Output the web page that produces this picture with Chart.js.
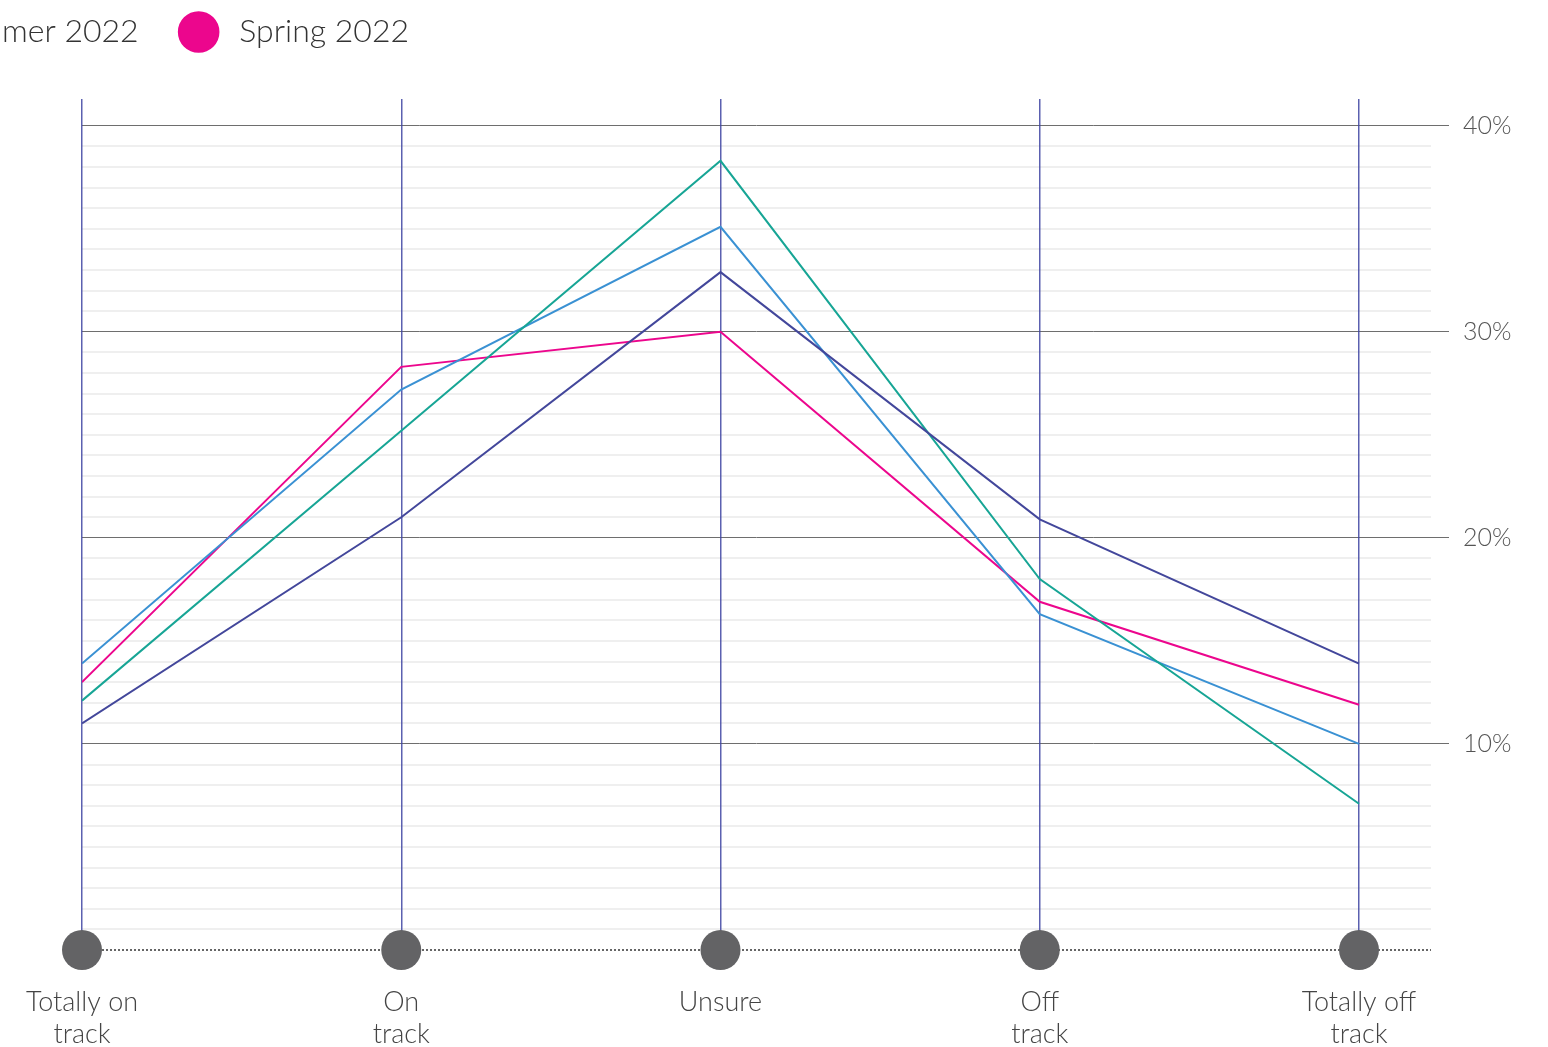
<!DOCTYPE html>
<html>
<head>
<meta charset="utf-8">
<style>
  html, body { margin: 0; padding: 0; background: #fff; overflow: hidden; width: 1548px; height: 1047px; }
  #wrap { position: relative; width: 1548px; height: 1047px; overflow: hidden; }
  #chart { position: absolute; }
</style>
<script src="https://cdn.jsdelivr.net/npm/chart.js@4/dist/chart.umd.min.js"></script>
</head>
<body>
<div id="wrap"><canvas id="chart"></canvas></div>
<script>
// Answer categories along the horizontal axis
const categories = ['Totally on track', 'On track', 'Unsure', 'Off track', 'Totally off track'];

// Share of respondents (%) per survey wave
const seriesNames = ['Winter 2022', 'Autumn 2022', 'Summer 2022', 'Spring 2022'];
const winter2022 = [11.0, 21.0, 32.9, 20.9, 13.9];
const autumn2022 = [12.1, 25.2, 38.3, 18.0, 7.1];
const summer2022 = [13.9, 27.2, 35.1, 16.3, 10.0];
const spring2022 = [13.0, 28.3, 30.0, 16.9, 11.9];
const seriesValues = [winter2022, autumn2022, summer2022, spring2022];
const seriesColors = ['#43479b', '#17a595', '#3a91d3', '#ec068d'];

// Value-axis labels shown on the right
const yTickLabels = [10, 20, 30, 40];

const FONT = 'Lato';
const LEGEND_SIZE = 32;
const LEGEND_PAD = 44;
const TOP_SHIFT = LEGEND_PAD - 16;

// Width of each legend entry, used to slide the canvas so the last entries sit at the page's left edge
const meas = document.createElement('canvas').getContext('2d');
meas.font = '300 ' + LEGEND_SIZE + 'px ' + FONT;
const itemW = seriesNames.map(n => LEGEND_SIZE + LEGEND_SIZE / 2 + meas.measureText(' ' + n).width);
let lastBoxX = LEGEND_PAD;
for (let i = 0; i < seriesNames.length - 1; i++) lastBoxX += itemW[i] + LEGEND_PAD;
const SHIFT = Math.round(lastBoxX + LEGEND_SIZE / 2 - 199);

const W = 1548 + SHIFT;
const H = 1047 + TOP_SHIFT;
const canvas = document.getElementById('chart');
canvas.width = W; canvas.height = H;
canvas.style.width = W + 'px'; canvas.style.height = H + 'px';
canvas.style.left = (-SHIFT) + 'px';
canvas.style.top = (-TOP_SHIFT) + 'px';

const lineSets = seriesNames.map((name, k) => ({
  label: name,
  data: seriesValues[k].map((v, i) => ({ x: i, y: v })),
  borderColor: seriesColors[k],
  backgroundColor: seriesColors[k],
  borderWidth: 2,
  pointRadius: 0,
  pointHoverRadius: 0,
  tension: 0,
  yAxisID: 'y',
  xAxisID: 'x'
}));

const markerSet = {
  label: 'axis',
  data: categories.map((c, i) => ({ x: i, y: 0 })),
  showLine: false,
  pointRadius: 20,
  pointHoverRadius: 20,
  pointBackgroundColor: '#636365',
  pointBorderWidth: 0,
  backgroundColor: '#636365',
  borderColor: '#636365',
  clip: false,
  yAxisID: 'y',
  xAxisID: 'x'
};

function splitLabel(s) {
  const k = s.lastIndexOf(' ');
  return k > 0 ? [s.slice(0, k), s.slice(k + 1)] : s;
}

new Chart(canvas, {
  type: 'line',
  data: { datasets: lineSets.concat([markerSet]) },
  options: {
    responsive: false,
    animation: false,
    events: [],
    layout: { padding: { left: 0, right: 35, top: 0, bottom: 0 } },
    plugins: {
      tooltip: { enabled: false },
      legend: {
        display: true,
        position: 'top',
        align: 'start',
        labels: {
          usePointStyle: true,
          pointStyle: 'circle',
          boxHeight: 28,
          padding: LEGEND_PAD,
          color: '#333333',
          font: { family: FONT, size: LEGEND_SIZE, weight: '300' },
          filter: item => item.datasetIndex < seriesNames.length,
          generateLabels: chart => Chart.defaults.plugins.legend.labels.generateLabels(chart)
            .map(item => Object.assign(item, { text: ' ' + item.text }))
        }
      },
      subtitle: {
        display: true,
        text: '',
        position: 'top',
        weight: 500,
        font: { size: 10, lineHeight: 1 },
        padding: { top: 15, bottom: 16 }
      }
    },
    scales: {
      x: {
        type: 'linear',
        position: 'bottom',
        min: 0,
        max: 1349 / 319.25,
        afterBuildTicks: s => { s.ticks = categories.map((c, i) => ({ value: i })); },
        afterFit: s => { s.height = 97; },
        grid: {
          z: -1,
          color: 'rgba(62, 68, 162, 0.85)',
          lineWidth: 1.5,
          drawTicks: false
        },
        border: { display: false },
        ticks: {
          autoSkip: false,
          maxRotation: 0,
          padding: 36,
          color: '#444444',
          font: { family: FONT, size: 27, weight: '300', lineHeight: 1.2 },
          callback: v => splitLabel(categories[v])
        }
      },
      yLeft: {
        type: 'linear',
        position: 'left',
        display: true,
        afterFit: s => { s.width = SHIFT + 82; },
        grid: { display: false },
        border: { display: false },
        ticks: { display: false }
      },
      y: {
        type: 'linear',
        position: 'right',
        min: 0,
        max: 41.3,
        afterBuildTicks: s => {
          const t = [];
          for (let v = 0; v <= 40; v++) t.push({ value: v });
          s.ticks = t;
        },
        afterFit: s => { s.width = 82; },
        border: {
          display: false,
          dash: c => (c.tick && c.tick.value === 0) ? [2, 2] : []
        },
        grid: {
          z: -2,
          color: c => c.tick.value === 0 ? '#666666' : (yTickLabels.includes(c.tick.value) ? '#6e6e6e' : '#efefef'),
          lineWidth: c => yTickLabels.includes(c.tick.value) ? 1 : 2,
          tickColor: c => yTickLabels.includes(c.tick.value) ? '#6e6e6e' : 'rgba(0,0,0,0)',
          tickLength: 18,
          drawTicks: true
        },
        ticks: {
          autoSkip: false,
          padding: 14,
          color: '#555555',
          font: { family: FONT, size: 25, weight: '300' },
          callback: v => yTickLabels.includes(v) ? v + '%' : ''
        }
      }
    }
  }
});
</script>
</body>
</html>
